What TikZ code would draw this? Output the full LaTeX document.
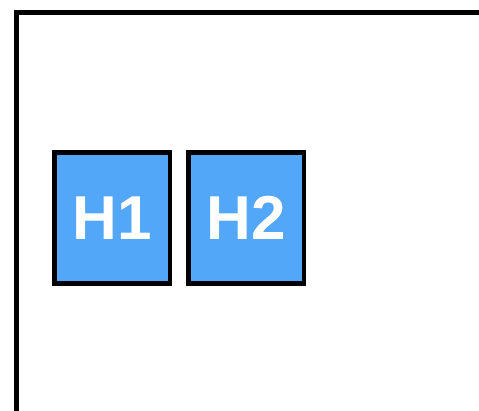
\documentclass[tikz,border=0pt]{standalone}
\usepackage{fontspec}
\setsansfont{Liberation Sans}
\definecolor{hostblue}{HTML}{52A7F9}
\tikzset{
    frame/.style={draw, line width=5pt},
    host/.style={draw, line width=4.5pt, fill=hostblue, text=white, minimum width=115.5pt, minimum height=131pt, inner sep=0pt, font=\sffamily\bfseries\fontsize{62}{62}\selectfont}
}

\begin{document}
\begin{tikzpicture}[x=1pt,y=-1pt]
    \useasboundingbox (0,0) rectangle (479,411);

    \coordinate (corner) at (16,13);
    \draw[frame] (16,425) -- (corner) -- (495,13);
    \node[host] (h1) at (112.2,218) {H1};
    \node[host] (h2) at (246.1,218) {H2};
\end{tikzpicture}
\end{document}
